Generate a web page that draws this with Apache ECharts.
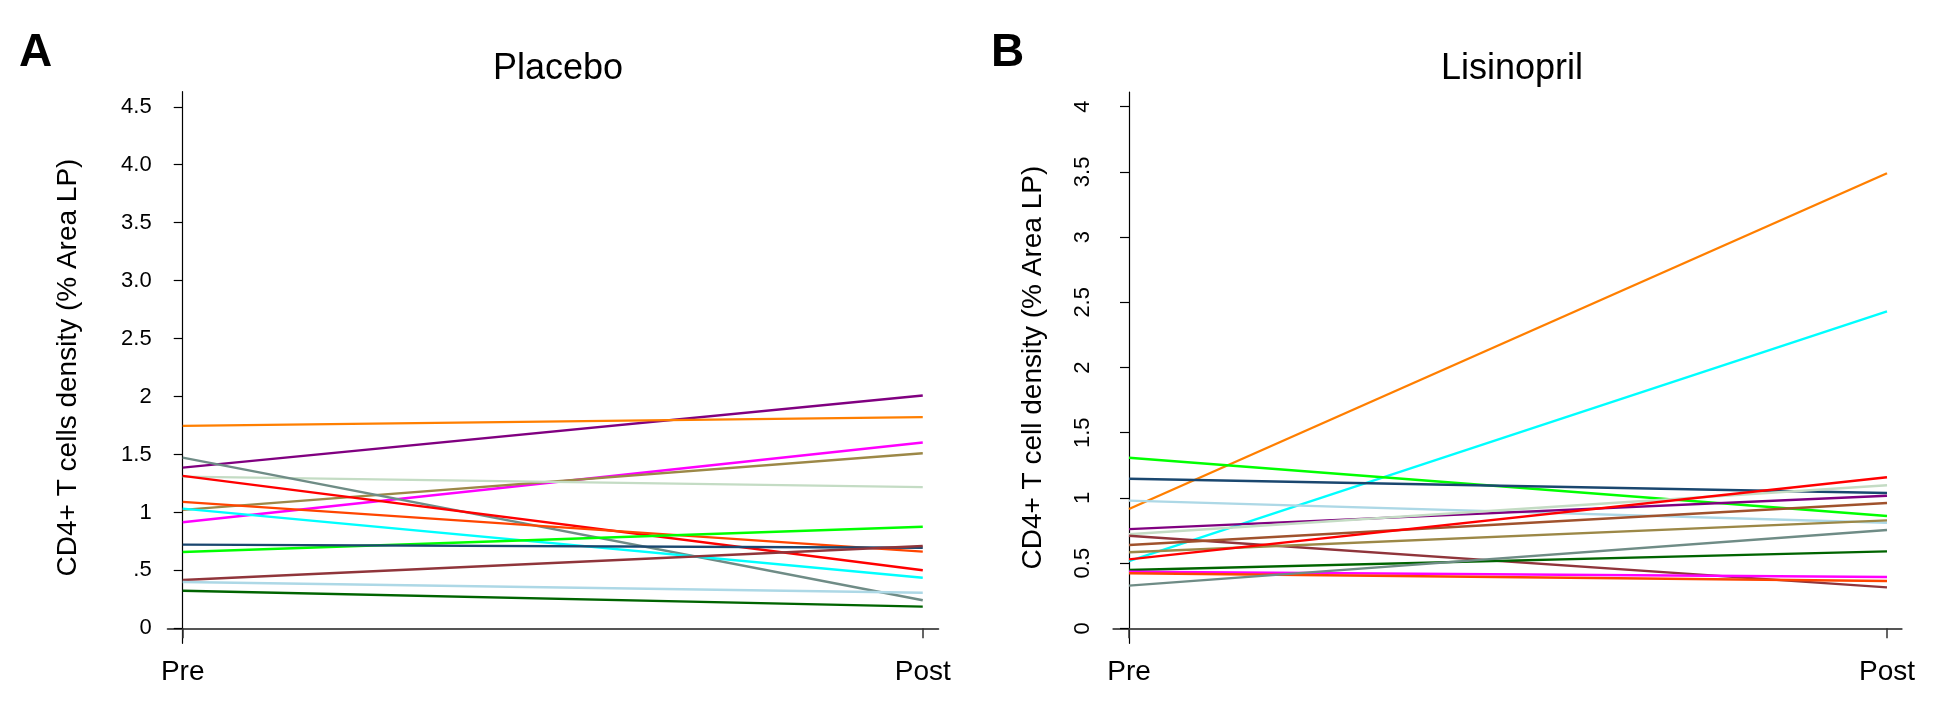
<!DOCTYPE html>
<html>
<head>
<meta charset="utf-8">
<script src="https://cdn.jsdelivr.net/npm/echarts@6/dist/echarts.min.js"></script>
<style>html,body{margin:0;padding:0;background:#fff}#c{width:1952px;height:720px}</style>
</head>
<body>
<div id="c"></div>
<script>
// ---- data ----
const timeLabels = ['Pre', 'Post'];
const placeboTickValues = [0, 0.5, 1, 1.5, 2, 2.5, 3, 3.5, 4, 4.5];
const placeboTickLabels = ['0', '.5', '1', '1.5', '2', '2.5', '3.0', '3.5', '4.0', '4.5'];
const lisTickValues = [0, 0.5, 1, 1.5, 2, 2.5, 3, 3.5, 4];
const lisTickLabels = ['0', '0.5', '1', '1.5', '2', '2.5', '3', '3.5', '4'];

const placeboPre  = [1.387, 1.747, 0.915, 1.022, 1.309, 1.473, 1.315, 1.091, 1.033, 0.659, 0.722, 0.417, 0.400, 0.325];
const placeboPost = [2.009, 1.822, 1.603, 1.511, 1.218, 0.242, 0.501, 0.662, 0.437, 0.877, 0.696, 0.711, 0.307, 0.187];
const placeboColors = ['#800080', '#FF7F00', '#FF00FF', '#9C8847', '#C4DCC4', '#6F8C86', '#FF0000', '#FF4500', '#00FFFF', '#00FF00', '#1A476F', '#90353B', '#ADD8E6', '#006400'];

const lisPre  = [0.915, 0.516, 1.308, 1.147, 0.979, 0.761, 0.721, 0.710, 0.639, 0.583, 0.529, 0.447, 0.434, 0.422, 0.327];
const lisPost = [3.490, 2.430, 0.861, 1.038, 0.810, 1.017, 1.097, 0.314, 0.961, 0.828, 1.158, 0.590, 0.393, 0.363, 0.754];
const lisColors = ['#FF7F00', '#00FFFF', '#00FF00', '#1A476F', '#ADD8E6', '#800080', '#C4DCC4', '#90353B', '#A0522D', '#9C8847', '#FF0000', '#006400', '#FF00FF', '#FF4500', '#6F8C86'];

// ---- chart ----
const FONT = 'Liberation Sans, Arial, Helvetica, sans-serif';

function makeSeries(pre, post, colors, idx) {
  return pre.map((v, i) => ({
    type: 'line',
    xAxisIndex: idx, yAxisIndex: idx,
    data: [[0, v], [1, post[i]]],
    symbol: 'none',
    silent: true,
    lineStyle: { color: colors[i], width: 2.4 },
    animation: false
  }));
}

function xAxisCfg(idx, min, max) {
  return {
    type: 'value', gridIndex: idx, min: min, max: max,
    splitLine: { show: false },
    axisLine: { show: true, lineStyle: { color: '#555', width: 2 } },
    axisTick: { show: true, customValues: [0, 1], length: 10, lineStyle: { color: '#333', width: 1.5 } },
    axisLabel: { customValues: [0, 1], formatter: v => timeLabels[Math.round(v)], color: '#000', fontSize: 28, fontFamily: FONT, margin: 15 }
  };
}

function yAxisCfg(idx, min, max, vals, labels, name, opts) {
  return {
    type: 'value', gridIndex: idx, min: min, max: max,
    splitLine: { show: false },
    axisLine: { show: true, lineStyle: { color: '#000', width: 1.2 } },
    axisTick: { show: true, customValues: vals, length: 9, lineStyle: { color: '#000', width: 1.2 } },
    axisLabel: Object.assign({
      customValues: vals,
      formatter: v => { const k = vals.findIndex(t => Math.abs(t - v) < 1e-6); return k >= 0 ? labels[k] : ''; },
      color: '#000', fontFamily: FONT
    }, opts.label),
    name: name, nameLocation: 'middle', nameGap: opts.nameGap,
    nameTextStyle: { color: '#000', fontSize: 28, fontFamily: FONT }
  };
}

const chart = echarts.init(document.getElementById('c'), null, { renderer: 'canvas' });
chart.setOption({
  backgroundColor: '#fff',
  animation: false,
  title: [
    { text: 'Placebo', left: 553, top: 46, textAlign: 'center', textStyle: { fontSize: 36, fontWeight: 'normal', color: '#000', fontFamily: FONT } },
    { text: 'Lisinopril', left: 1507, top: 46, textAlign: 'center', textStyle: { fontSize: 36, fontWeight: 'normal', color: '#000', fontFamily: FONT } }
  ],
  graphic: [
    { type: 'text', left: 19, top: 30, style: { text: 'A', font: 'bold 46px ' + FONT, fill: '#000' } },
    { type: 'text', left: 991, top: 30, style: { text: 'B', font: 'bold 46px ' + FONT, fill: '#000' } }
  ],
  grid: [
    { left: 167.7, top: 91.7, width: 770.6, height: 551.6 },
    { left: 1113.3, top: 92, width: 788.4, height: 551.3 }
  ],
  xAxis: [
    xAxisCfg(0, -0.0203, 1.021),
    xAxisCfg(1, -0.0207, 1.0194)
  ],
  yAxis: [
    yAxisCfg(0, -0.129, 4.63, placeboTickValues, placeboTickLabels, 'CD4+ T cells density (% Area LP)',
      { nameGap: 85, label: { fontSize: 22, margin: 16 } }),
    yAxisCfg(1, -0.115, 4.113, lisTickValues, lisTickLabels, 'CD4+ T cell density (% Area LP)',
      { nameGap: 66, label: { fontSize: 22, margin: 19, rotate: 90 } })
  ],
  series: [].concat(makeSeries(placeboPre, placeboPost, placeboColors, 0), makeSeries(lisPre, lisPost, lisColors, 1))
});
</script>
</body>
</html>
